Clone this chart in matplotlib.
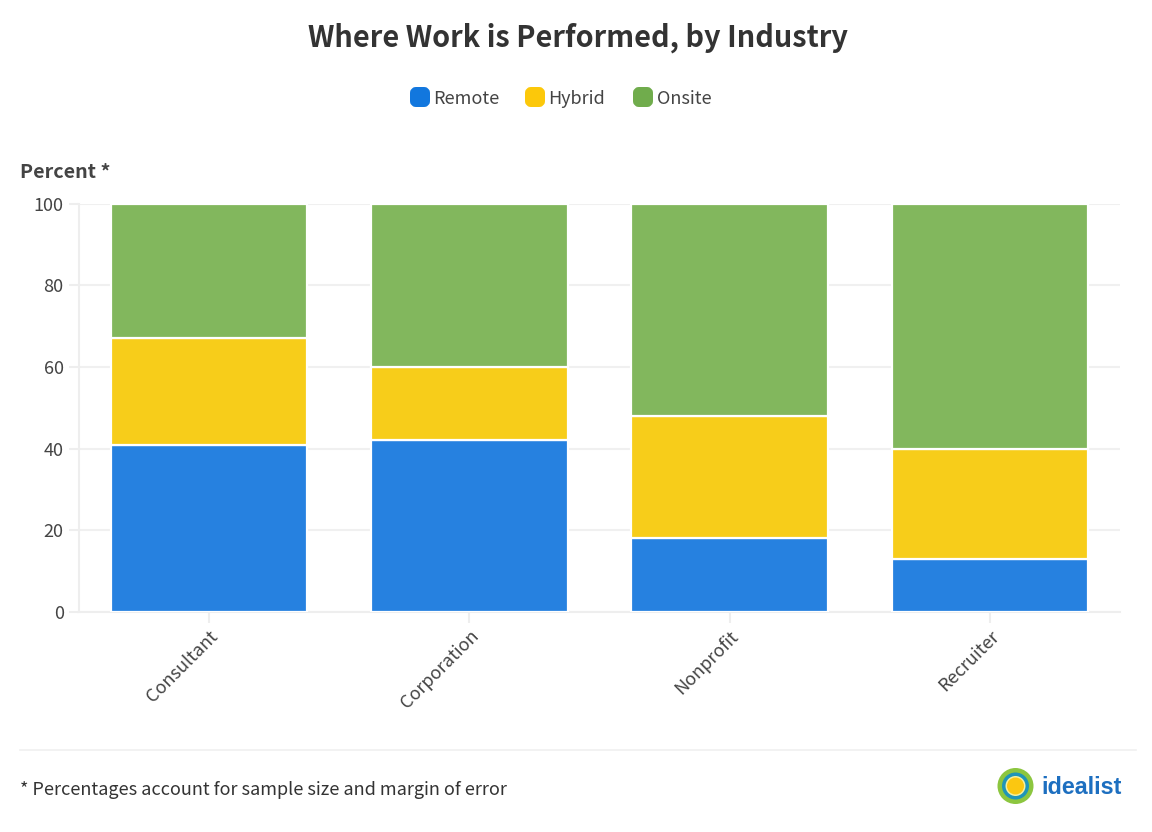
import matplotlib
matplotlib.use('Agg')
import matplotlib.pyplot as plt
from matplotlib.patches import FancyBboxPatch, Circle
import numpy as np

plt.rcParams['font.family'] = ['Noto Sans CJK SC', 'DejaVu Sans']

industries = ['Consultant', 'Corporation', 'Nonprofit', 'Recruiter']
remote = [41, 42, 18, 13]
hybrid = [26, 18, 30, 27]
onsite = [33, 40, 52, 60]
y_ticks = [0, 20, 40, 60, 80, 100]

W, H = 1152, 832
fig = plt.figure(figsize=(W / 100, H / 100), dpi=100, facecolor='white')

# overlay in pixel coords for title, legend, footer
bg = fig.add_axes([0, 0, 1, 1])
bg.set_xlim(0, W)
bg.set_ylim(H, 0)
bg.axis('off')

ax = fig.add_axes([79 / W, 1 - 612 / H, (1120 - 79) / W, (612 - 203.5) / H])
ax.patch.set_alpha(0)

x = np.arange(len(industries))
bar_kw = dict(width=0.755, edgecolor='white', linewidth=1.6, zorder=3)
ax.bar(x, remote, color='#2681e0', label='Remote', **bar_kw)
ax.bar(x, hybrid, bottom=remote, color='#f7cd1a', label='Hybrid', **bar_kw)
ax.bar(x, onsite, bottom=np.add(remote, hybrid), color='#82b75d', label='Onsite', **bar_kw)

ax.set_xlim(-0.5, 3.5)
ax.set_ylim(0, 100)
ax.set_yticks(y_ticks)
ax.set_xticks(x)
ax.set_xticklabels(industries, rotation=45, ha='right', rotation_mode='anchor',
                   fontsize=13, color='#444444')
ax.tick_params(axis='y', length=7, color='#eeeeee', width=1.5, labelsize=13,
               labelcolor='#444444', pad=4)
ax.tick_params(axis='x', length=8, color='#eeeeee', width=1.5, pad=3)
ax.grid(axis='y', color='#f0f0f0', linewidth=1.5, zorder=0)
ax.grid(axis='x', visible=False)
for name in ['top', 'right']:
    ax.spines[name].set_visible(False)
for name in ['left', 'bottom']:
    ax.spines[name].set_color('#eeeeee')
    ax.spines[name].set_linewidth(1.5)
for lab in ax.get_yticklabels():
    lab.set_verticalalignment('center_baseline')

bg.text(578, 38, 'Where Work is Performed, by Industry', ha='center', va='center',
        fontsize=20.8, fontweight='bold', color='#333333')
bg.text(20, 173, 'Percent *', ha='left', va='center', fontsize=14.2,
        fontweight='bold', color='#444444')

# legend
legend_items = [(410, 'Remote', '#1277de'), (525, 'Hybrid', '#fcc80a'), (633, 'Onsite', '#70ac4c')]
for lx, label, col in legend_items:
    bg.add_patch(FancyBboxPatch((lx + 3, 90), 14, 14, boxstyle='round,pad=0,rounding_size=3',
                                mutation_aspect=1, facecolor=col, edgecolor=col, linewidth=6 * 0.72,
                                joinstyle='round'))
    bg.text(lx + 23.5, 99, label, ha='left', va='center', fontsize=13, color='#444444')

# footer
bg.plot([20, 1136], [750, 750], color='#f0f0f0', linewidth=1.2)
bg.text(20, 790, '* Percentages account for sample size and margin of error', ha='left',
        va='center', fontsize=13, color='#333333')

# logo
bg.add_patch(Circle((1015.5, 786), 18, facecolor='#8cc63f', edgecolor='none'))
bg.add_patch(Circle((1015.5, 786), 13.5, facecolor='#1f95b8', edgecolor='none'))
bg.add_patch(Circle((1015.5, 786), 10, facecolor='#f3f0a0', edgecolor='none'))
bg.add_patch(Circle((1015.5, 786), 8.5, facecolor='#fbc711', edgecolor='none'))
bg.text(1041, 787, 'idealist', ha='left', va='center', fontsize=16.8, fontweight='bold',
        color='#1d6fc0', family=['Liberation Sans', 'DejaVu Sans'])

fig.savefig('out.png', dpi=100)
